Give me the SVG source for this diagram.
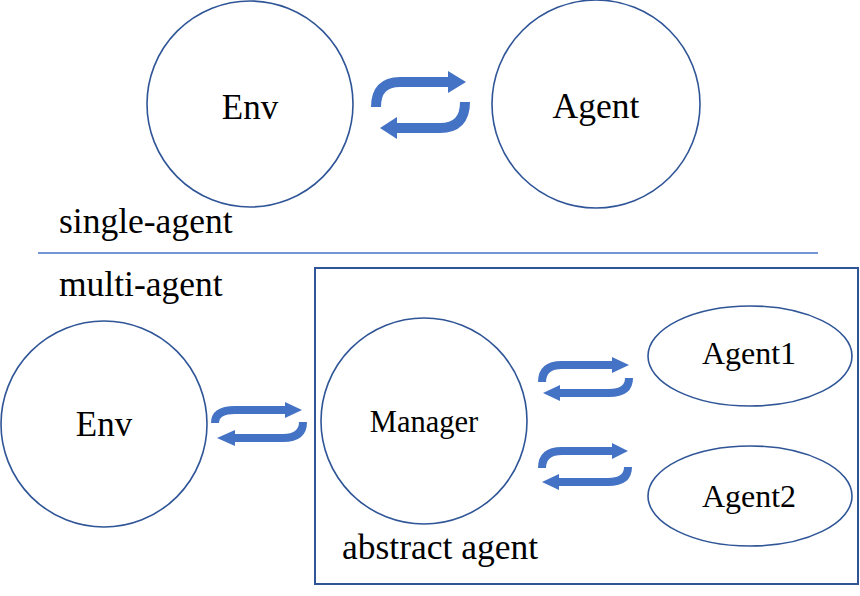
<svg xmlns="http://www.w3.org/2000/svg" width="860" height="596" viewBox="0 0 860 596">
<style>
.node{fill:#fff;stroke:#2F5597;stroke-width:1.6}
.lbl{font-family:'Liberation Serif','DejaVu Serif',serif;fill:#000;text-anchor:middle}
.cap{font-family:'Liberation Serif','DejaVu Serif',serif;fill:#000;font-size:35.5px}
.shaft{fill:none;stroke:#4472C4;stroke-width:10}
.shaft2{fill:none;stroke:#4472C4;stroke-width:8}
.head{fill:#4472C4}
</style>
<rect width="860" height="596" fill="#fff"/>
<g id="abstract-agent-box">
<rect x="315" y="268" width="543" height="316" fill="none" stroke="#2F5597" stroke-width="2"/>
<text class="cap" x="342" y="559">abstract agent</text>
</g>
<g id="separator">
<line x1="38" y1="253" x2="818" y2="253" stroke="#4472C4" stroke-width="1.6"/>
<text class="cap" x="59" y="233">single-agent</text>
<text class="cap" x="59" y="296">multi-agent</text>
</g>
<g id="env-top">
<circle class="node" cx="250" cy="104" r="103"/>
<text class="lbl" x="250" y="119" font-size="35">Env</text>
</g>
<g id="agent-top">
<circle class="node" cx="596" cy="104" r="104"/>
<text class="lbl" x="596" y="118" font-size="35.5">Agent</text>
</g>
<g id="env-bottom">
<circle class="node" cx="104" cy="424" r="103"/>
<text class="lbl" x="104" y="436" font-size="35">Env</text>
</g>
<g id="manager">
<circle class="node" cx="424" cy="421" r="103"/>
<text class="lbl" x="424" y="432" font-size="30.5">Manager</text>
</g>
<g id="agent1">
<ellipse class="node" cx="750" cy="356" rx="102" ry="50"/>
<text class="lbl" x="749" y="364" font-size="32">Agent1</text>
</g>
<g id="agent2">
<ellipse class="node" cx="750" cy="496" rx="102" ry="50"/>
<text class="lbl" x="749" y="507" font-size="32">Agent2</text>
</g>
<g id="connectors">
<path class="shaft" d="M376,107 Q376,82 400,82 L450,82"/>
<polygon class="head" points="448,71 466,82 448,93"/>
<path class="shaft" d="M465,102 Q465,128 440,128 L395,128"/>
<polygon class="head" points="397,117 380,128 397,139"/>
<path class="shaft2" d="M215,423 Q215,410 235,410 L287,410"/>
<polygon class="head" points="285,402 302,410 285,418"/>
<path class="shaft2" d="M303,422 Q303,438 283,438 L233,438"/>
<polygon class="head" points="235,430 217,438 235,446"/>
<path class="shaft2" d="M542,382 Q542,365 562,365 L614,365"/>
<polygon class="head" points="612,357 629,365 612,373"/>
<path class="shaft2" d="M629,378 Q629,393 609,393 L558,393"/>
<polygon class="head" points="560,385 543,393 560,401"/>
<path class="shaft2" d="M542,468 Q542,451 562,451 L614,451"/>
<polygon class="head" points="612,443 628,451 612,459"/>
<path class="shaft2" d="M628,467 Q628,482 608,482 L557,482"/>
<polygon class="head" points="559,474 542,482 559,490"/>
</g>
</svg>
